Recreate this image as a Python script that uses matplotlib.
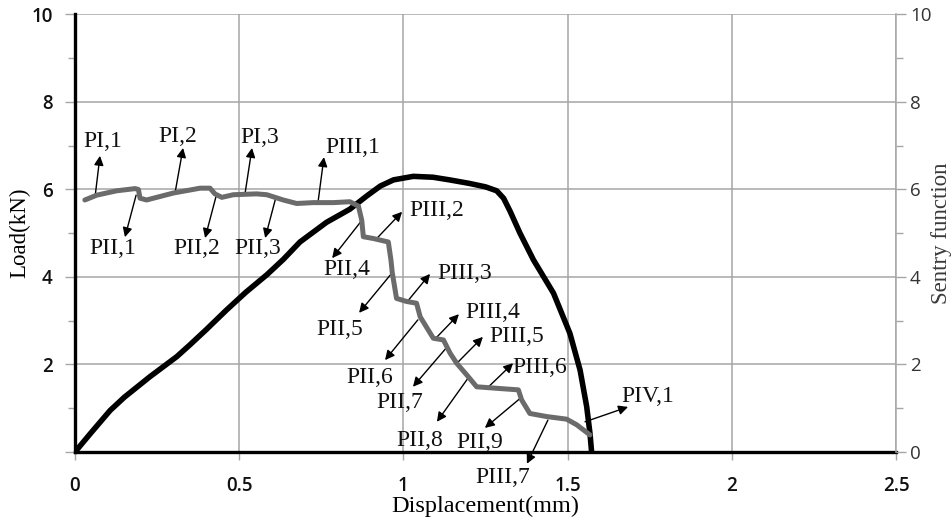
import numpy as np
import matplotlib
matplotlib.use("Agg")
import matplotlib.pyplot as plt

# load - displacement curve (black)
load_disp = [0, 0.05, 0.107, 0.15, 0.228, 0.31, 0.35, 0.40, 0.462, 0.52, 0.584, 0.634,
             0.685, 0.766, 0.837, 0.888, 0.93, 0.97, 1.03, 1.09, 1.14, 1.20, 1.25, 1.284,
             1.305, 1.325, 1.355, 1.396, 1.457, 1.507, 1.538, 1.558, 1.568, 1.573]
load_kn = [0, 0.45, 0.95, 1.25, 1.72, 2.18, 2.45, 2.8, 3.25, 3.65, 4.05, 4.4,
           4.8, 5.25, 5.55, 5.85, 6.08, 6.22, 6.3, 6.28, 6.22, 6.14, 6.06, 5.97,
           5.8, 5.5, 5.0, 4.39, 3.63, 2.71, 1.87, 1.04, 0.43, 0]

# sentry function curve (grey)
sentry_disp = [0.030, 0.066, 0.127, 0.183, 0.193, 0.198, 0.218, 0.30, 0.381, 0.411, 0.426,
               0.447, 0.482, 0.553, 0.584, 0.634, 0.675, 0.726, 0.787, 0.837, 0.863, 0.873,
               0.878, 0.908, 0.954, 0.962, 0.966, 0.979, 1.010, 1.040, 1.051, 1.091, 1.122,
               1.142, 1.162, 1.193, 1.223, 1.294, 1.350, 1.360, 1.385, 1.436, 1.497, 1.528,
               1.568]
sentry_val = [5.76, 5.87, 5.97, 6.02, 6.0, 5.8, 5.76, 5.92, 6.03, 6.03, 5.9,
              5.82, 5.88, 5.9, 5.88, 5.76, 5.68, 5.70, 5.70, 5.72, 5.62, 5.3,
              4.92, 4.88, 4.8, 4.39, 4.10, 3.51, 3.44, 3.40, 3.09, 2.60, 2.56,
              2.26, 2.03, 1.76, 1.49, 1.45, 1.42, 1.19, 0.88, 0.81, 0.75, 0.62,
              0.39]

# annotations: label, label position, arrow tail (on curve), arrow head
labels = ["PI,1", "PI,2", "PI,3", "PII,1", "PII,2", "PII,3", "PIII,1", "PIII,2", "PII,4",
          "PIII,3", "PII,5", "PIII,4", "PII,6", "PIII,5", "PII,7", "PIII,6", "PII,8",
          "PII,9", "PIII,7", "PIV,1"]
label_xy = [(0.085, 7.09), (0.314, 7.2), (0.563, 7.18), (0.116, 4.66), (0.371, 4.66),
            (0.557, 4.66), (0.847, 6.97), (1.102, 5.51), (0.828, 4.16), (1.188, 4.09),
            (0.807, 2.79), (1.273, 3.18), (0.898, 1.71), (1.346, 2.63), (0.990, 1.12),
            (1.416, 1.94), (1.051, 0.27), (1.233, 0.21), (1.303, -0.59), (1.745, 1.26)]
tail_xy = [(0.061, 5.83), (0.305, 5.94), (0.518, 5.92), (0.186, 5.87), (0.429, 5.83),
           (0.612, 5.83), (0.740, 5.71), (0.920, 4.89), (0.874, 5.30), (1.011, 3.43),
           (0.965, 4.09), (1.096, 2.58), (1.044, 3.02), (1.163, 2.03), (1.133, 2.40),
           (1.255, 1.46), (1.197, 1.69), (1.361, 1.26), (1.440, 0.73), (1.553, 0.69)]
head_xy = [(0.076, 6.77), (0.329, 6.95), (0.539, 6.95), (0.152, 4.91), (0.396, 4.89),
           (0.579, 4.89), (0.758, 6.74), (0.996, 5.49), (0.783, 4.43), (1.081, 4.07),
           (0.865, 3.18), (1.169, 3.15), (0.944, 2.10), (1.242, 2.63), (1.029, 1.49),
           (1.334, 2.03), (1.102, 0.69), (1.248, 0.55), (1.376, -0.27), (1.684, 1.03)]

serif = "Liberation Serif"
sans = "Open Sans"

fig = plt.figure(figsize=(9.52, 5.23), dpi=100)
ax = fig.add_axes([0.0788, 0.1358, 0.8624, 0.8365])
ax2 = ax.twinx()

ax.set_xlim(0, 2.5)
ax.set_ylim(0, 10)
ax2.set_ylim(0, 10)
ax.set_xticks([0, 0.5, 1, 1.5, 2, 2.5])
ax.set_xticklabels(["0", "0.5", "1", "1.5", "2", "2.5"])
ax.set_yticks([0, 2, 4, 6, 8, 10])
ax.set_yticklabels(["", "2", "4", "6", "8", "10"])
ax.set_yticks([1, 3, 5, 7, 9], minor=True)
ax2.set_yticks([0, 2, 4, 6, 8, 10])
ax2.set_yticks([1, 3, 5, 7, 9], minor=True)

ax.grid(True, which="major", color="#a6a6a6", lw=1.1)
ax.set_axisbelow(True)

for a in (ax, ax2):
    a.spines["top"].set_visible(False)
ax.spines["left"].set_linewidth(2.4)
ax.spines["bottom"].set_linewidth(2.4)
ax.spines["right"].set_visible(False)
ax2.spines["left"].set_visible(False)
ax2.spines["bottom"].set_visible(False)
ax2.spines["right"].set_color("#a6a6a6")
ax2.spines["right"].set_linewidth(1.1)

ax.tick_params(axis="both", which="both", color="#a6a6a6", width=1, direction="out")
ax.tick_params(axis="y", which="major", length=7, pad=9, labelsize=13.5, labelcolor="#111111")
ax.tick_params(axis="y", which="minor", length=5)
ax.tick_params(axis="x", which="major", length=6, pad=11, labelsize=13.5, labelcolor="#111111")
ax2.tick_params(axis="y", which="both", color="#a6a6a6", width=1, direction="out")
ax2.tick_params(axis="y", which="major", length=7, pad=3, labelsize=13.5, labelcolor="#333333")
ax2.tick_params(axis="y", which="minor", length=5)
for t in ax.get_xticklabels() + ax.get_yticklabels():
    t.set_fontfamily(sans)
    t.set_fontweight("semibold")
for t in ax2.get_yticklabels():
    t.set_fontfamily(sans)

ax.plot(load_disp, load_kn, color="black", lw=4.0, solid_capstyle="round",
        solid_joinstyle="round", zorder=3)
ax2.plot(sentry_disp, sentry_val, color="#6b6b6b", lw=3.6, solid_capstyle="round",
         solid_joinstyle="round", zorder=3)

for lab, lxy, txy, hxy in zip(labels, label_xy, tail_xy, head_xy):
    ax.annotate("", xy=hxy, xytext=txy, annotation_clip=False,
                arrowprops=dict(arrowstyle="-|>", color="black", lw=1.0,
                                mutation_scale=14, shrinkA=0, shrinkB=0), zorder=4)
    ax.text(lxy[0], lxy[1], lab, family=serif, fontsize=17, ha="center", va="center",
            color="#111111", zorder=5)

ax.set_xlabel("Displacement(mm)", family=serif, fontsize=17.5, labelpad=0)
ax.set_ylabel("Load(kN)", family=serif, fontsize=16.5)
ax.yaxis.set_label_coords(-0.055, 0.5)
ax2.set_ylabel("Sentry function", family=serif, fontsize=16.5, color="#3a3a3a")
ax2.yaxis.set_label_coords(1.042, 0.5)

fig.savefig("out.png", dpi=100)
